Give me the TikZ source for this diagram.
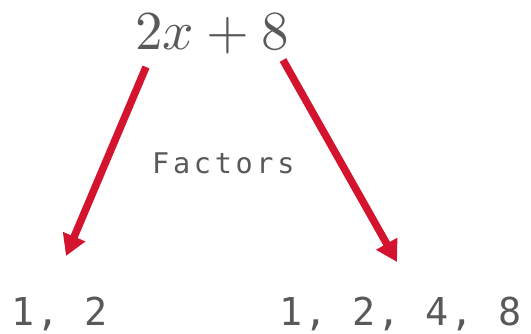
\documentclass[tikz,border=0pt]{standalone}
\usepackage{fontspec}
\usepackage{unicode-math}
\setmathfont{Latin Modern Math}
\usetikzlibrary{arrows.meta}
\newfontfamily\monoA[LetterSpace=13]{DejaVu Sans Mono}
\newfontfamily\monoB[LetterSpace=5]{DejaVu Sans Mono}
\definecolor{txtgray}{RGB}{89,89,89}
\definecolor{arrred}{RGB}{212,20,46}
\tikzset{
  lbl/.style={inner sep=0pt, text=txtgray},
  redarrow/.style={draw=arrred, line width=7.5pt, -{Triangle[length=21pt,width=23pt]}}
}
\begin{document}
\begin{tikzpicture}[x=1pt,y=-1pt]
\useasboundingbox (0,0) rectangle (531,333);
\node[lbl, anchor=base] (expr) at (212,49) {\fontsize{55}{60}\selectfont $2x+8$};
\node[lbl, anchor=base west] (fac) at (152,173) {\fontsize{28.5}{30}\selectfont\monoA Factors};
\node[lbl, anchor=base west] (left) at (11,325) {\fontsize{38.4}{40}\selectfont\monoB 1, 2};
\node[lbl, anchor=base west] (right) at (279,325) {\fontsize{38.4}{40}\selectfont\monoB 1, 2, 4, 8};
\coordinate (s1) at (146,67);
\coordinate (e1) at (66,256);
\coordinate (s2) at (283,60);
\coordinate (e2) at (397,262);
\draw[redarrow] (s1) -- (e1);
\draw[redarrow] (s2) -- (e2);
\end{tikzpicture}
\end{document}
